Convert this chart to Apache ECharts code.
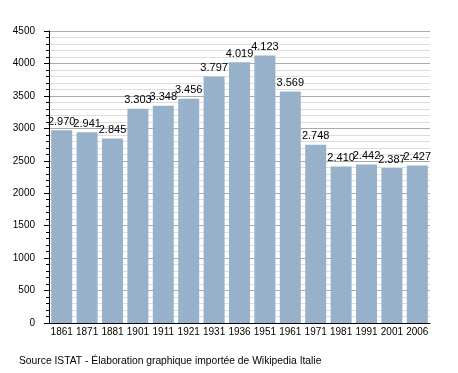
<!DOCTYPE html>
<html>
<head>
<meta charset="utf-8">
<script src="https://cdn.jsdelivr.net/npm/echarts@6/dist/echarts.min.js"></script>
<style>
html,body{margin:0;padding:0;background:#fff;}
#chart{width:458px;height:373px;}
</style>
</head>
<body>
<div id="chart"></div>
<script>
var years = ['1861','1871','1881','1901','1911','1921','1931','1936','1951','1961','1971','1981','1991','2001','2006'];
var population = [2970, 2941, 2845, 3303, 3348, 3456, 3797, 4019, 4123, 3569, 2748, 2410, 2442, 2387, 2427];
var yTicks = [0, 500, 1000, 1500, 2000, 2500, 3000, 3500, 4000, 4500];
var caption = 'Source ISTAT - Élaboration graphique importée de Wikipedia Italie';

function fmt(v) {
  var s = String(v);
  return s.length > 3 ? s.slice(0, s.length - 3) + '.' + s.slice(s.length - 3) : s;
}

var chart = echarts.init(document.getElementById('chart'), null, {renderer: 'canvas'});
var FONT = '"Liberation Sans", Arial, sans-serif';
chart.setOption({
  animation: false,
  backgroundColor: '#fff',
  grid: {left: 49, right: 28, top: 31, bottom: 50, containLabel: false},
  xAxis: {
    type: 'category',
    data: years,
    axisLine: {show: true, lineStyle: {color: '#000', width: 1}},
    axisTick: {show: false},
    axisLabel: {color: '#000', fontSize: 10, fontFamily: FONT, margin: 4, interval: 0}
  },
  yAxis: {
    type: 'value',
    min: yTicks[0],
    max: yTicks[yTicks.length - 1],
    interval: 500,
    axisLine: {show: true, lineStyle: {color: '#000', width: 1}},
    axisTick: {show: true, length: 5, lineStyle: {color: '#000'}},
    minorTick: {show: true, splitNumber: 5, length: 3, lineStyle: {color: '#000'}},
    splitLine: {show: true, lineStyle: {color: '#aaaaaa', width: 1}},
    minorSplitLine: {show: true, lineStyle: {color: '#dddddd', width: 1}},
    axisLabel: {color: '#000', fontSize: 10, fontFamily: FONT, margin: 14,
      formatter: function (v) { return String(v); }}
  },
  series: [{
    type: 'bar',
    data: population,
    barWidth: 21,
    itemStyle: {color: '#98b1cb'},
    label: {
      show: true,
      position: 'top',
      distance: 3,
      color: '#000',
      fontSize: 11,
      fontFamily: FONT,
      formatter: function (p) { return fmt(p.value); }
    }
  }],
  graphic: [{
    type: 'text',
    left: 19,
    top: 356,
    style: {text: caption, fill: '#000', font: '10.3px ' + FONT}
  }]
});
</script>
</body>
</html>
